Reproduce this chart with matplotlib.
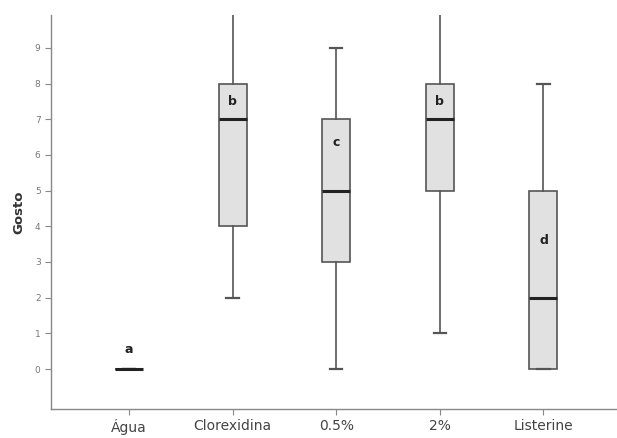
import matplotlib
matplotlib.use("Agg")
import matplotlib.pyplot as plt

# box plot data
groups = ["Água", "Clorexidina", "0.5%", "2%", "Listerine"]
whislo = [0, 2, 0, 1, 0]
q1 = [0, 4, 3, 5, 0]
med = [0, 7, 5, 7, 2]
q3 = [0, 8, 7, 8, 5]
whishi = [0, 10.5, 9, 10.5, 8]
letters = ["a", "b", "c", "b", "d"]
letter_y = [0.55, 7.5, 6.35, 7.5, 3.6]

stats = []
for i in range(len(groups)):
    stats.append(dict(label=groups[i], whislo=whislo[i], q1=q1[i], med=med[i],
                      q3=q3[i], whishi=whishi[i], fliers=[]))

fig = plt.figure(figsize=(6.17, 4.38), dpi=100)
ax = fig.add_axes([51 / 617, 29 / 438, 566 / 617, 394 / 438])

pos = list(range(1, len(groups) + 1))
edge = "#555555"
ax.bxp(stats, positions=pos, widths=0.27, patch_artist=True, showcaps=True,
       boxprops=dict(facecolor="#e1e1e1", edgecolor=edge, linewidth=1.2),
       whiskerprops=dict(color=edge, linewidth=1.2),
       capprops=dict(color=edge, linewidth=1.6),
       medianprops=dict(color="#222222", linewidth=2.2),
       capwidths=0.12)

# group letters over the boxes
for i in range(len(groups)):
    ax.text(pos[i], letter_y[i], letters[i], ha="center", va="center",
            fontsize=9, fontweight="bold", color="#222222")

ax.set_xlim(0.246, 5.71)
ax.set_ylim(-1.12, 9.92)
ax.set_yticks(range(0, 10))
ax.set_xticks(pos)
ax.set_xticklabels(groups)

ax.spines["top"].set_visible(False)
ax.spines["right"].set_visible(False)
for s in ["left", "bottom"]:
    ax.spines[s].set_color("#888888")
    ax.spines[s].set_linewidth(1.0)
ax.tick_params(axis="y", labelsize=6.5, labelcolor="#777777", color="#888888", length=4)
ax.tick_params(axis="x", labelsize=10, labelcolor="#444444", color="#888888", length=4)

ax.set_ylabel("Gosto", fontsize=9.5, fontweight="bold", color="#333333", labelpad=7)

fig.savefig("out.png", dpi=100)
